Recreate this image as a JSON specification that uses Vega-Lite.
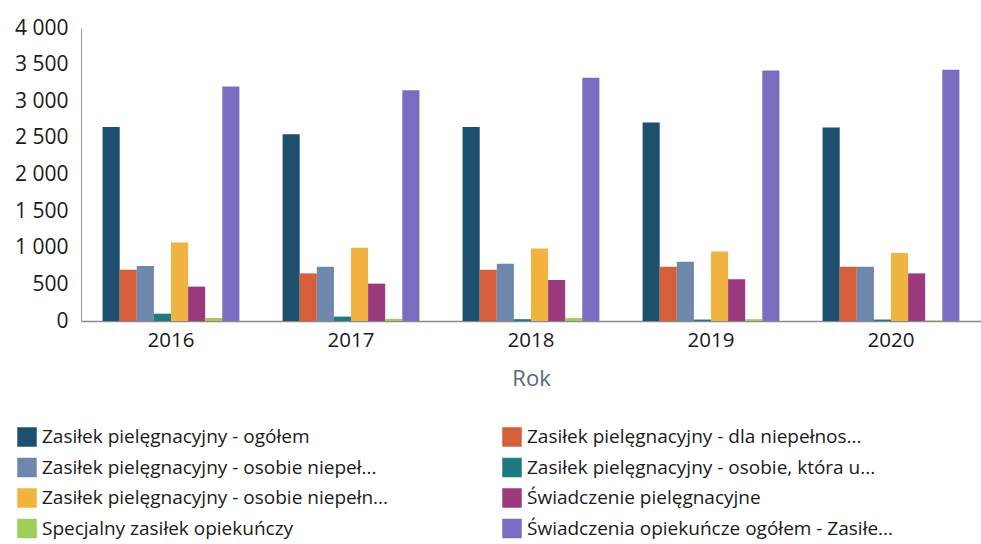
{
  "$schema": "https://vega.github.io/schema/vega-lite/v6.json",
  "width": 900,
  "height": 293,
  "autosize": {"type": "none"},
  "padding": {"left": 81, "top": 28, "right": 0, "bottom": 223},
  "background": "white",
  "config": {
    "font": "Open Sans",
    "view": {"stroke": null}
  },
  "datasets": {
    "d": [
      {"rok": "2016", "seria": "Zasiłek pielęgnacyjny - ogółem", "wartosc": 2650},
      {"rok": "2016", "seria": "Zasiłek pielęgnacyjny - dla niepełnos...", "wartosc": 700},
      {"rok": "2016", "seria": "Zasiłek pielęgnacyjny - osobie niepeł...", "wartosc": 750},
      {"rok": "2016", "seria": "Zasiłek pielęgnacyjny - osobie, która u...", "wartosc": 100},
      {"rok": "2016", "seria": "Zasiłek pielęgnacyjny -  osobie niepełn...", "wartosc": 1070},
      {"rok": "2016", "seria": "Świadczenie pielęgnacyjne", "wartosc": 470},
      {"rok": "2016", "seria": "Specjalny zasiłek opiekuńczy", "wartosc": 40},
      {"rok": "2016", "seria": "Świadczenia opiekuńcze ogółem - Zasiłe...", "wartosc": 3200},
      {"rok": "2017", "seria": "Zasiłek pielęgnacyjny - ogółem", "wartosc": 2550},
      {"rok": "2017", "seria": "Zasiłek pielęgnacyjny - dla niepełnos...", "wartosc": 650},
      {"rok": "2017", "seria": "Zasiłek pielęgnacyjny - osobie niepeł...", "wartosc": 740},
      {"rok": "2017", "seria": "Zasiłek pielęgnacyjny - osobie, która u...", "wartosc": 60},
      {"rok": "2017", "seria": "Zasiłek pielęgnacyjny -  osobie niepełn...", "wartosc": 1000},
      {"rok": "2017", "seria": "Świadczenie pielęgnacyjne", "wartosc": 510},
      {"rok": "2017", "seria": "Specjalny zasiłek opiekuńczy", "wartosc": 30},
      {"rok": "2017", "seria": "Świadczenia opiekuńcze ogółem - Zasiłe...", "wartosc": 3150},
      {"rok": "2018", "seria": "Zasiłek pielęgnacyjny - ogółem", "wartosc": 2650},
      {"rok": "2018", "seria": "Zasiłek pielęgnacyjny - dla niepełnos...", "wartosc": 700},
      {"rok": "2018", "seria": "Zasiłek pielęgnacyjny - osobie niepeł...", "wartosc": 780},
      {"rok": "2018", "seria": "Zasiłek pielęgnacyjny - osobie, która u...", "wartosc": 25},
      {"rok": "2018", "seria": "Zasiłek pielęgnacyjny -  osobie niepełn...", "wartosc": 990},
      {"rok": "2018", "seria": "Świadczenie pielęgnacyjne", "wartosc": 560},
      {"rok": "2018", "seria": "Specjalny zasiłek opiekuńczy", "wartosc": 40},
      {"rok": "2018", "seria": "Świadczenia opiekuńcze ogółem - Zasiłe...", "wartosc": 3320},
      {"rok": "2019", "seria": "Zasiłek pielęgnacyjny - ogółem", "wartosc": 2710},
      {"rok": "2019", "seria": "Zasiłek pielęgnacyjny - dla niepełnos...", "wartosc": 740},
      {"rok": "2019", "seria": "Zasiłek pielęgnacyjny - osobie niepeł...", "wartosc": 810},
      {"rok": "2019", "seria": "Zasiłek pielęgnacyjny - osobie, która u...", "wartosc": 20},
      {"rok": "2019", "seria": "Zasiłek pielęgnacyjny -  osobie niepełn...", "wartosc": 950},
      {"rok": "2019", "seria": "Świadczenie pielęgnacyjne", "wartosc": 570},
      {"rok": "2019", "seria": "Specjalny zasiłek opiekuńczy", "wartosc": 25},
      {"rok": "2019", "seria": "Świadczenia opiekuńcze ogółem - Zasiłe...", "wartosc": 3420},
      {"rok": "2020", "seria": "Zasiłek pielęgnacyjny - ogółem", "wartosc": 2640},
      {"rok": "2020", "seria": "Zasiłek pielęgnacyjny - dla niepełnos...", "wartosc": 740},
      {"rok": "2020", "seria": "Zasiłek pielęgnacyjny - osobie niepeł...", "wartosc": 740},
      {"rok": "2020", "seria": "Zasiłek pielęgnacyjny - osobie, która u...", "wartosc": 20},
      {"rok": "2020", "seria": "Zasiłek pielęgnacyjny -  osobie niepełn...", "wartosc": 930},
      {"rok": "2020", "seria": "Świadczenie pielęgnacyjne", "wartosc": 650},
      {"rok": "2020", "seria": "Specjalny zasiłek opiekuńczy", "wartosc": 8},
      {"rok": "2020", "seria": "Świadczenia opiekuńcze ogółem - Zasiłe...", "wartosc": 3430}
    ]
  },
  "data": {"name": "d"},
  "mark": {"type": "bar"},
  "encoding": {
    "x": {
      "field": "rok",
      "type": "nominal",
      "scale": {"paddingInner": 0.24, "paddingOuter": 0.12},
      "axis": {
        "title": "Rok",
        "titleFont": "Open Sans",
        "titleFontSize": 22,
        "titleFontWeight": "normal",
        "titleColor": "#55697a",
        "titlePadding": 18,
        "labelAngle": 0,
        "labelFontSize": 20.5,
        "labelColor": "#1a1a1a",
        "labelPadding": 9,
        "ticks": false,
        "domainColor": "#8a8a8a",
        "domainWidth": 1.5,
        "grid": false
      }
    },
    "xOffset": {
      "field": "seria",
      "type": "nominal",
      "sort": [
        "Zasiłek pielęgnacyjny - ogółem",
        "Zasiłek pielęgnacyjny - dla niepełnos...",
        "Zasiłek pielęgnacyjny - osobie niepeł...",
        "Zasiłek pielęgnacyjny - osobie, która u...",
        "Zasiłek pielęgnacyjny -  osobie niepełn...",
        "Świadczenie pielęgnacyjne",
        "Specjalny zasiłek opiekuńczy",
        "Świadczenia opiekuńcze ogółem - Zasiłe..."
      ],
      "scale": {"paddingInner": 0, "paddingOuter": 0}
    },
    "y": {
      "field": "wartosc",
      "type": "quantitative",
      "scale": {"domain": [0, 4000], "nice": false},
      "axis": {
        "title": null,
        "values": [0, 500, 1000, 1500, 2000, 2500, 3000, 3500, 4000],
        "labelExpr": "replace(format(datum.value, ','), ',', ' ')",
        "labelFontSize": 21,
        "labelColor": "#1a1a1a",
        "labelPadding": 13,
        "ticks": false,
        "grid": false,
        "domainColor": "#9a9a9a",
        "domainWidth": 1
      }
    },
    "color": {
      "field": "seria",
      "type": "nominal",
      "sort": [
        "Zasiłek pielęgnacyjny - ogółem",
        "Zasiłek pielęgnacyjny - dla niepełnos...",
        "Zasiłek pielęgnacyjny - osobie niepeł...",
        "Zasiłek pielęgnacyjny - osobie, która u...",
        "Zasiłek pielęgnacyjny -  osobie niepełn...",
        "Świadczenie pielęgnacyjne",
        "Specjalny zasiłek opiekuńczy",
        "Świadczenia opiekuńcze ogółem - Zasiłe..."
      ],
      "scale": {
        "range": ["#1d4f6e", "#d55f3a", "#6f87ad", "#1f7a80", "#f2b440", "#9b3b7e", "#9fcf5a", "#7a6cc0"]
      },
      "legend": {
        "title": null,
        "orient": "none",
        "legendX": -64,
        "legendY": 399,
        "columns": 2,
        "direction": "horizontal",
        "columnPadding": 108,
        "rowPadding": 10.5,
        "symbolType": "square",
        "symbolSize": 380,
        "symbolStrokeWidth": 0,
        "labelFontSize": 19,
        "labelColor": "#1a1a1a",
        "labelLimit": 0,
        "labelOffset": 5
      }
    }
  }
}
